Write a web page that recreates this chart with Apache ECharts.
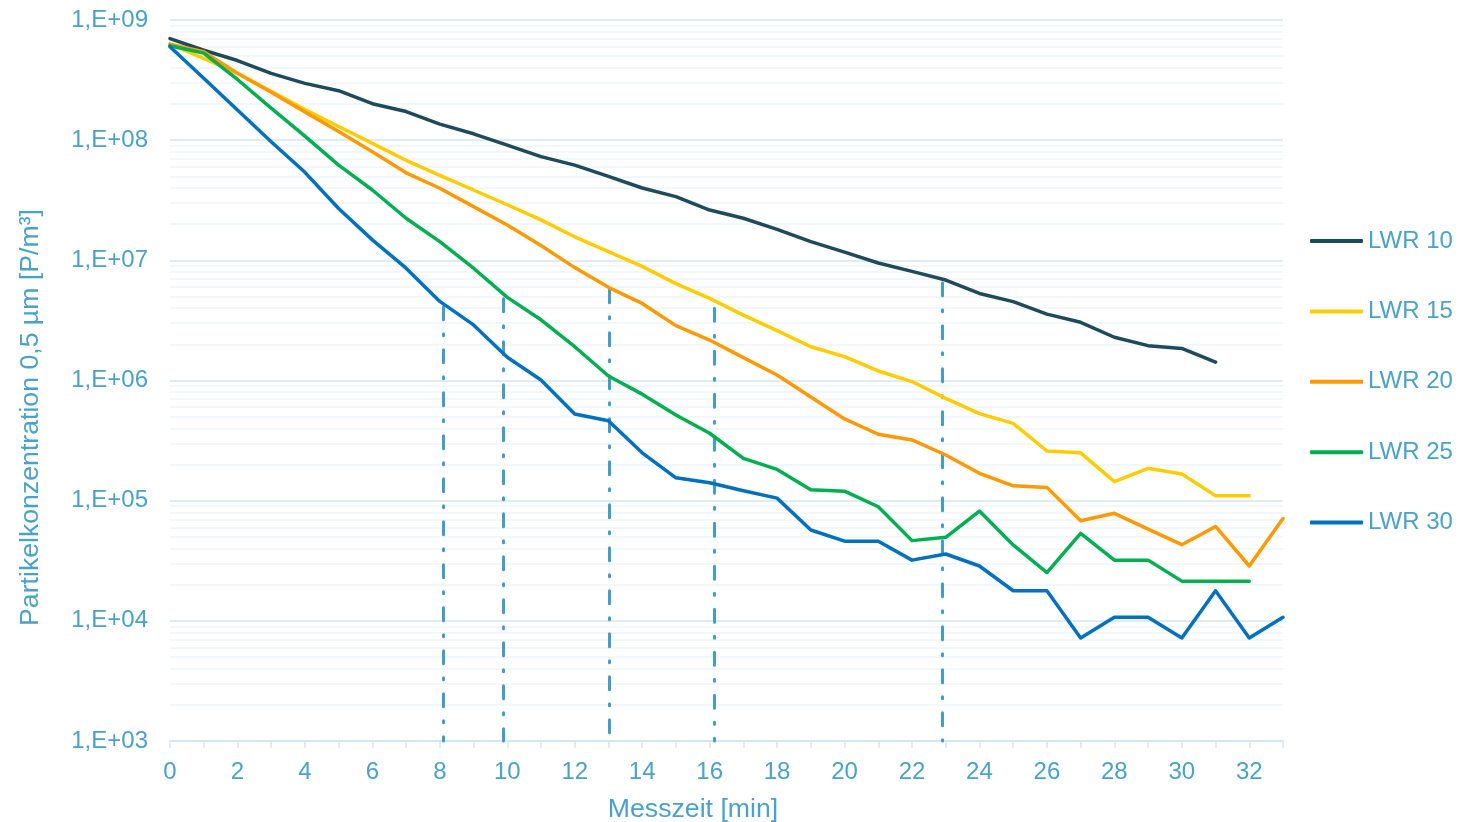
<!DOCTYPE html>
<html>
<head>
<meta charset="utf-8">
<script src="https://cdn.jsdelivr.net/npm/echarts@6/dist/echarts.min.js"></script>
<style>
html,body{margin:0;padding:0;background:#fff;}
#chart{width:1468px;height:822px;}
</style>
</head>
<body>
<div id="chart"></div>
<script>
// Messzeit [min]
const minutes = [0,1,2,3,4,5,6,7,8,9,10,11,12,13,14,15,16,17,18,19,20,21,22,23,24,25,26,27,28,29,30,31,32,33];

const seriesNames = ['LWR 10','LWR 15','LWR 20','LWR 25','LWR 30'];

const lwr10 = [7.0e8,5.6e8,4.6e8,3.6e8,2.97e8,2.58e8,2.01e8,1.73e8,1.36e8,1.13e8,9.1e7,7.3e7,6.2e7,5.0e7,4.0e7,3.39e7,2.62e7,2.24e7,1.81e7,1.43e7,1.17e7,9.5e6,8.1e6,6.86e6,5.3e6,4.53e6,3.57e6,3.05e6,2.29e6,1.95e6,1.85e6,1.42e6];
const lwr15 = [6.3e8,4.8e8,3.6e8,2.55e8,1.8e8,1.3e8,9.4e7,6.8e7,5.1e7,3.85e7,2.9e7,2.17e7,1.57e7,1.18e7,8.9e6,6.4e6,4.83e6,3.5e6,2.6e6,1.91e6,1.58e6,1.2e6,9.8e5,7.1e5,5.3e5,4.4e5,2.59e5,2.5e5,1.44e5,1.86e5,1.67e5,1.1e5,1.1e5];
const lwr20 = [6.3e8,5.45e8,3.6e8,2.5e8,1.72e8,1.18e8,8.0e7,5.35e7,3.98e7,2.8e7,1.97e7,1.33e7,8.7e6,5.96e6,4.38e6,2.86e6,2.17e6,1.55e6,1.11e6,7.3e5,4.79e5,3.57e5,3.2e5,2.4e5,1.69e5,1.33e5,1.29e5,6.8e4,7.85e4,5.8e4,4.3e4,6.1e4,2.86e4,7.1e4];
const lwr25 = [6.1e8,5.3e8,3.2e8,1.85e8,1.08e8,6.2e7,3.85e7,2.24e7,1.43e7,8.6e6,4.92e6,3.2e6,1.91e6,1.09e6,7.7e5,5.16e5,3.64e5,2.25e5,1.82e5,1.23e5,1.2e5,8.9e4,4.65e4,4.95e4,8.2e4,4.28e4,2.52e4,5.35e4,3.2e4,3.2e4,2.14e4,2.14e4,2.14e4];
const lwr30 = [6.0e8,3.27e8,1.78e8,9.7e7,5.4e7,2.7e7,1.48e7,8.6e6,4.55e6,2.9e6,1.56e6,1.01e6,5.26e5,4.63e5,2.5e5,1.55e5,1.41e5,1.21e5,1.05e5,5.7e4,4.6e4,4.6e4,3.2e4,3.6e4,2.86e4,1.78e4,1.78e4,7.2e3,1.07e4,1.07e4,7.2e3,1.78e4,7.2e3,1.07e4];

// vertical dash-dot markers: time and the concentration where they start
const markerTimes = [8.1, 9.88, 13.03, 16.15, 22.9];
const markerTops  = [4.1e6, 4.8e6, 5.7e6, 4.0e6, 6.5e6];

const seriesColors = ['#1E4B5C','#FFCC00','#FF9900','#00B050','#0070C0'];
const textColor = '#4BA2C8';
const font = "'Liberation Sans', Arial, sans-serif";

const allSeries = [lwr10, lwr15, lwr20, lwr25, lwr30];

// minor log grid lines (2..9 per decade)
const minorLines = [];
for (let k = 3; k <= 8; k++) {
  for (let m = 2; m <= 9; m++) minorLines.push({ yAxis: m * Math.pow(10, k) });
}

const series = [];
series.push({
  name: 'minorGrid', type: 'line', data: [], silent: true, z: 0,
  markLine: {
    silent: true, symbol: 'none', animation: false,
    label: { show: false },
    lineStyle: { color: '#ECF4F8', width: 1.5, type: 'solid' },
    emphasis: { disabled: true },
    data: minorLines
  }
});
series.push({
  name: 'markers', type: 'line', data: [], silent: true, z: 1,
  markLine: {
    silent: true, symbol: 'none', animation: false,
    label: { show: false },
    lineStyle: { color: '#449DC5', width: 3, type: [13, 14, 2, 14], cap: 'round' },
    emphasis: { disabled: true },
    data: markerTimes.map((t, i) => [{ coord: [t, markerTops[i]] }, { coord: [t, 1000] }])
  }
});
allSeries.forEach((arr, i) => {
  series.push({
    name: seriesNames[i], type: 'line', z: 5,
    data: arr.map((v, j) => [minutes[j], v]),
    symbol: 'none', showSymbol: false,
    lineStyle: { width: 3.5, color: seriesColors[i], cap: 'round', join: 'round' },
    itemStyle: { color: seriesColors[i] }
  });
});

const chart = echarts.init(document.getElementById('chart'), null, { renderer: 'canvas' });
chart.setOption({
  animation: false,
  backgroundColor: '#ffffff',
  grid: { left: 170, right: 185, top: 20, bottom: 81, containLabel: false, outerBoundsMode: 'none' },
  legend: {
    data: seriesNames,
    orient: 'vertical',
    left: 1310, top: 229, padding: 0,
    icon: 'roundRect',
    itemWidth: 53, itemHeight: 4,
    itemGap: 46.4,
    textStyle: { color: textColor, fontSize: 24, fontFamily: font, lineHeight: 24 }
  },
  xAxis: {
    type: 'value', min: 0, max: 33, interval: 1,
    name: 'Messzeit [min]', nameLocation: 'middle', nameGap: 55,
    nameTextStyle: { color: textColor, fontSize: 26.67, fontFamily: font, padding: [0, 67, 0, 0] },
    axisLine: { show: true, lineStyle: { color: '#D3E6F0', width: 1.5 } },
    axisTick: { show: true, length: 7, lineStyle: { color: '#D3E6F0', width: 1.5 } },
    splitLine: { show: false },
    axisLabel: {
      color: textColor, fontSize: 24, fontFamily: font, margin: 19,
      formatter: v => (v % 2 === 0 ? String(v) : '')
    }
  },
  yAxis: {
    type: 'log', logBase: 10, min: 1000, max: 1e9, splitNumber: 6,
    name: 'Partikelkonzentration 0,5 µm [P/m³]', nameLocation: 'middle', nameRotate: 90, nameGap: 126,
    nameTextStyle: { color: textColor, fontSize: 26.67, fontFamily: font, padding: [0, 74, 0, 0] },
    axisLine: { show: false },
    axisTick: { show: false },
    splitLine: { show: true, lineStyle: { color: '#D3E7F1', width: 1.5 } },
    axisLabel: {
      color: textColor, fontSize: 24, fontFamily: font, margin: 22,
      formatter: v => {
        const e = Math.round(Math.log10(v));
        return '1,E+' + String(e).padStart(2, '0');
      }
    }
  },
  series: series
});
</script>
</body>
</html>
